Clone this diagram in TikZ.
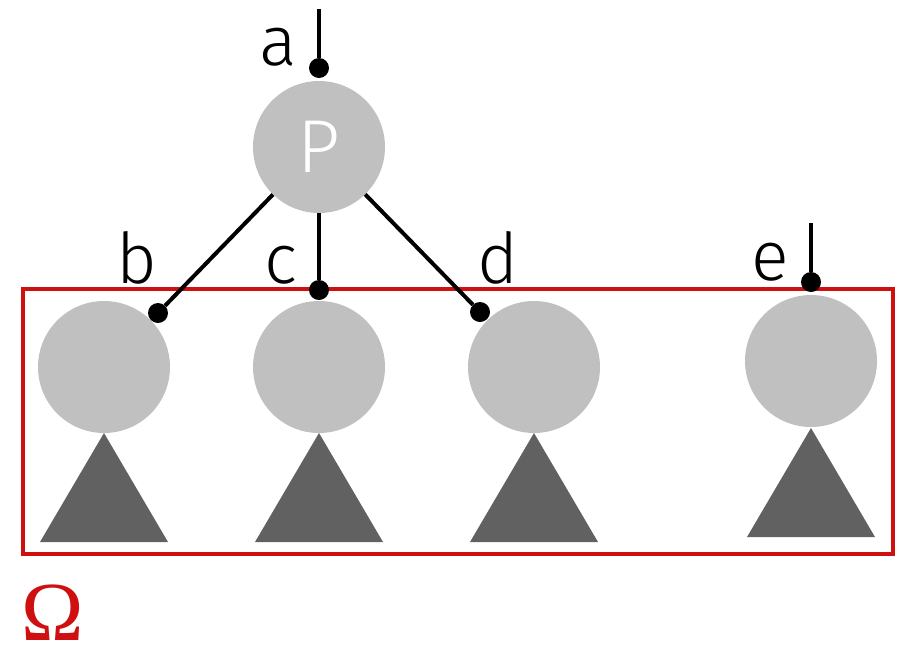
\documentclass[tikz,border=0pt]{standalone}
\usepackage{fontspec}
\setmainfont{Fira Sans}[UprightFont={* Light}]
\newfontfamily\omegafont{Liberation Serif}
\definecolor{nodegray}{RGB}{192,192,192}
\definecolor{treegray}{RGB}{97,97,97}
\definecolor{omegared}{RGB}{206,16,16}

\begin{document}
\begin{tikzpicture}[x=1pt,y=-1pt,
  vertex/.style={circle,fill=nodegray,minimum size=132pt,inner sep=0pt},
  pin/.style={circle,fill=black,minimum size=20pt,inner sep=0pt},
  edge/.style={line width=4pt},
  lbl/.style={anchor=base,inner sep=0pt,font=\fontsize{70}{70}\selectfont},
  subtree/.style={fill=treegray},
  region/.style={draw=omegared,line width=4pt}]
\useasboundingbox (0,0) rectangle (911,646);

% the set Omega
\draw[region] (23,289) rectangle (892.5,554);
\node[anchor=base,inner sep=0pt,text=omegared,font=\omegafont\fontsize{84}{84}\selectfont] (omega) at (52.5,640) {Ω};

% parent node
\node[vertex,text=white,font=\fontsize{75}{75}\selectfont] (P) at (319,147) {P};

% children
\node[vertex] (nb) at (104,367) {};
\node[vertex] (nc) at (319,367) {};
\node[vertex] (nd) at (534,367) {};
\node[vertex] (ne) at (811,361) {};

% subtrees below the children
\fill[subtree] (104,433) -- (168,542) -- (40,542) -- cycle;
\fill[subtree] (319,433) -- (383,542) -- (255,542) -- cycle;
\fill[subtree] (534,433) -- (598,542) -- (470,542) -- cycle;
\fill[subtree] (811,428) -- (875,537) -- (747,537) -- cycle;

% pointer ends
\node[pin] (pa) at (319,68) {};
\node[pin] (pb) at (158,313) {};
\node[pin] (pc) at (319,290) {};
\node[pin] (pd) at (480,312) {};
\node[pin] (pe) at (811,282) {};
\coordinate (ta) at (319,9);
\coordinate (te) at (811,223);

% pointers
\draw[edge] (ta) -- (pa);
\draw[edge] (te) -- (pe);
\draw[edge] (P) -- (pb);
\draw[edge] (P) -- (pc);
\draw[edge] (P) -- (pd);

% labels
\node[lbl] (la) at (278,65) {a};
\node[lbl] (lb) at (137,283) {b};
\node[lbl] (lc) at (281,283) {c};
\node[lbl] (ld) at (498,283) {d};
\node[lbl] (le) at (770,280) {e};
\end{tikzpicture}
\end{document}
